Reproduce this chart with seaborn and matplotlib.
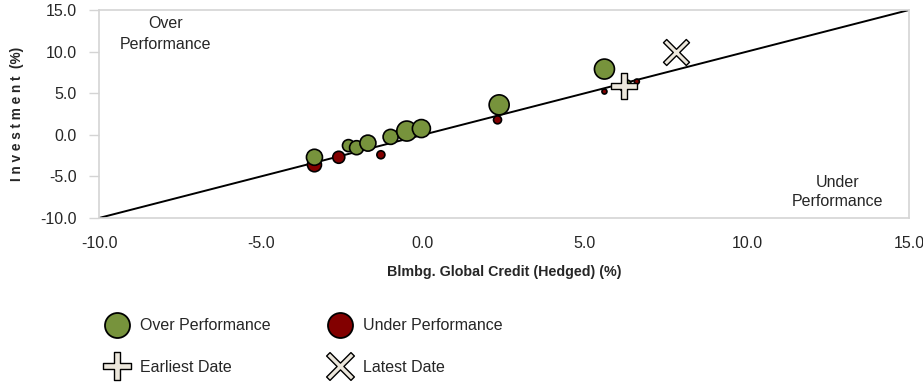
import numpy as np
import pandas as pd
import matplotlib
matplotlib.use("Agg")
import matplotlib.pyplot as plt
from matplotlib.path import Path
from matplotlib.lines import Line2D
import seaborn as sns

# Benchmark (x) vs investment (y) returns, %
over_x = [-3.35, -2.3, -2.05, -1.7, -1.0, -0.5, -0.05, 2.35, 5.6, 6.3]
over_y = [-2.7, -1.3, -1.55, -1.0, -0.25, 0.45, 0.75, 3.6, 7.9, 6.1]
under_x = [-3.35, -2.6, -1.3, 2.3, 5.6, 6.2, 6.6]
under_y = [-3.6, -2.7, -2.4, 1.8, 5.2, 5.7, 6.4]
earliest = (6.2, 5.9)
latest = (7.8, 10.0)

axis_min, axis_max = -10.0, 15.0
ticks = [-10.0, -5.0, 0.0, 5.0, 10.0, 15.0]

# marker radii in pixels
over_r = [8, 6, 7, 8, 7.5, 10, 9, 10, 10, 4]
under_r = [7, 6, 4, 4, 2.5, 4, 2.5]

GREEN = "#77933C"
RED = "#820000"
PALE = "#ece7dc"
FS = 11.5


def area(r):
    return [(1.44 * v) ** 2 for v in r]


def plus_path(w=0.2):
    v = [(-w, 1), (w, 1), (w, w), (1, w), (1, -w), (w, -w), (w, -1), (-w, -1),
         (-w, -w), (-1, -w), (-1, w), (-w, w), (-w, 1)]
    codes = [Path.MOVETO] + [Path.LINETO] * 11 + [Path.CLOSEPOLY]
    return Path(v, codes)


def x_path(w=0.14):
    p = plus_path(w)
    c, s = np.cos(np.pi / 4), np.sin(np.pi / 4)
    rot = np.array([[c, -s], [s, c]])
    return Path(p.vertices @ rot.T, p.codes)


sns.set_theme(style="white")
plt.rcParams["font.family"] = ["Liberation Sans", "DejaVu Sans"]

fig = plt.figure(figsize=(9.23, 3.84), dpi=100)
ax = fig.add_axes([99 / 923, 1 - 218 / 384, (909 - 99) / 923, (218 - 10) / 384])

ax.plot([axis_min, axis_max], [axis_min, axis_max], color="black", lw=1.4, zorder=1)

under_df = pd.DataFrame({"x": under_x, "y": under_y})
over_df = pd.DataFrame({"x": over_x, "y": over_y})
sns.scatterplot(data=under_df, x="x", y="y", s=area(under_r), color=RED,
                edgecolor="black", linewidth=1.2, ax=ax, zorder=3, legend=False)
sns.scatterplot(data=over_df, x="x", y="y", s=area(over_r), color=GREEN,
                edgecolor="black", linewidth=1.2, ax=ax, zorder=4, legend=False)

ax.scatter([earliest[0]], [earliest[1]], marker=plus_path(), s=(1.44 * 13) ** 2,
           facecolor=PALE, edgecolor="black", linewidth=1.0, zorder=5)
ax.scatter([latest[0]], [latest[1]], marker=x_path(), s=(1.44 * 13) ** 2,
           facecolor=PALE, edgecolor="black", linewidth=1.0, zorder=5)

ax.set_xlim(axis_min, axis_max)
ax.set_ylim(axis_min, axis_max)
ax.set_xticks(ticks)
ax.set_yticks(ticks)
ax.set_xticklabels([f"{t:.1f}" for t in ticks], fontsize=FS)
ax.set_yticklabels([f"{t:.1f}" for t in ticks], fontsize=FS)
ax.tick_params(axis="y", left=True, length=7, width=1, color="#d4d4d4", pad=9)
ax.tick_params(axis="x", bottom=False, pad=7)
for sp in ax.spines.values():
    sp.set_color("#d4d4d4")
    sp.set_linewidth(1.2)

ax.set_xlabel("Blmbg. Global Credit (Hedged) (%)", fontsize=10.3, fontweight="bold",
              labelpad=10)
ax.set_ylabel("I n v e s t m e n t  (%)", fontsize=9.8, fontweight="bold", labelpad=12)

ax.text(-7.96, 12.1, "Over\nPerformance", ha="center", va="center", fontsize=FS,
        linespacing=1.55)
ax.text(12.8, -6.85, "Under\nPerformance", ha="center", va="center", fontsize=FS,
        linespacing=1.3)

handles = [
    Line2D([], [], ls="", marker="o", ms=18, mfc=GREEN, mec="black", mew=1.3,
           label="Over Performance"),
    Line2D([], [], ls="", marker=plus_path(), ms=20, mfc=PALE, mec="black", mew=1.0,
           label="Earliest Date"),
    Line2D([], [], ls="", marker="o", ms=18, mfc=RED, mec="black", mew=1.3,
           label="Under Performance"),
    Line2D([], [], ls="", marker=x_path(), ms=20, mfc=PALE, mec="black", mew=1.0,
           label="Latest Date"),
]
fig.legend(handles=handles, ncol=2, loc="upper left",
           bbox_to_anchor=(98 / 923, 1 - 312 / 384),
           frameon=False, fontsize=FS, handletextpad=0.6, columnspacing=3.6,
           labelspacing=1.65, handlelength=1.6, borderaxespad=0)

fig.savefig("out.png", dpi=100, facecolor="white")
